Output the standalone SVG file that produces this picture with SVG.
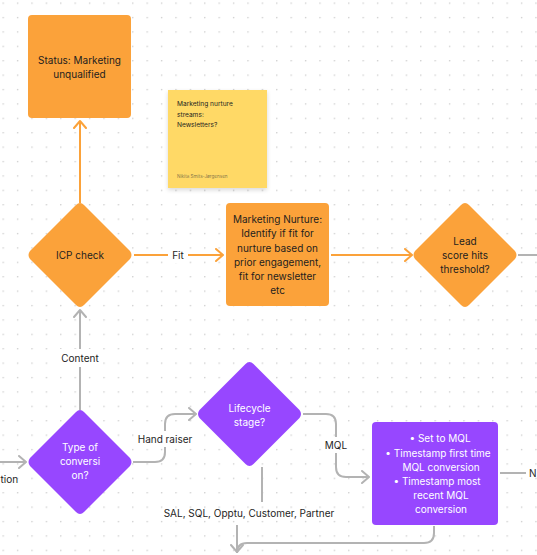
<svg xmlns="http://www.w3.org/2000/svg" width="537" height="555" viewBox="0 0 537 555">
<defs>
<pattern id="dots" x="2.5" y="2.5" width="14.4" height="14.4" patternUnits="userSpaceOnUse">
<circle cx="0.7" cy="0.7" r="0.75" fill="#c9c9c9"/>
</pattern>
<marker id="ao" markerWidth="10" markerHeight="14" refX="8" refY="7" orient="auto" markerUnits="userSpaceOnUse">
<path d="M1,1 L8,7 L1,13" fill="none" stroke="#FBA23A" stroke-width="2" stroke-linecap="round" stroke-linejoin="round"/>
</marker>
<marker id="ag" markerWidth="10" markerHeight="14" refX="8" refY="7" orient="auto" markerUnits="userSpaceOnUse">
<path d="M1,1 L8,7 L1,13" fill="none" stroke="#B3B3B3" stroke-width="2" stroke-linecap="round" stroke-linejoin="round"/>
</marker>
<filter id="shadow" x="-10%" y="-10%" width="130%" height="130%">
<feDropShadow dx="0" dy="2" stdDeviation="2" flood-color="#000" flood-opacity="0.15"/>
</filter>
</defs>
<style>
text{font-family:Inter,"Noto Sans","Liberation Sans",sans-serif;font-size:10px;fill:#1e1e1e;text-anchor:middle;dominant-baseline:central}
.w{fill:#ffffff}
.orange{fill:#FBA23A}
.purple{fill:#9747FF}
.lo{fill:none;stroke:#FBA23A;stroke-width:2}
.lg{fill:none;stroke:#B3B3B3;stroke-width:2}
.lbl{fill:#ffffff}
.st{font-size:6.6px;text-anchor:start;dominant-baseline:auto}
</style>
<rect width="537" height="555" fill="#ffffff"/>
<rect width="537" height="555" fill="url(#dots)"/>

<g id="connectors">
<path class="lo" d="M80,203 V121" marker-end="url(#ao)"/>
<path class="lo" d="M134,255 H223" marker-end="url(#ao)"/>
<rect class="lbl" x="168" y="247" width="20" height="16"/>
<text x="178" y="255">Fit</text>
<path class="lo" d="M331,255 H412" marker-end="url(#ao)"/>
<path class="lg" d="M518,255 H537"/>
<path class="lg" d="M80,410 V310" marker-end="url(#ag)"/>
<rect class="lbl" x="58" y="349" width="44" height="18"/>
<text x="80" y="358">Content</text>
<path class="lg" d="M0,462 H26" marker-end="url(#ag)"/>
<text x="0.5" y="479" style="text-anchor:start">tion</text>
<path class="lg" d="M133,462 H155 Q165,462 165,452 V424 Q165,414 175,414 H196" marker-end="url(#ag)"/>
<rect class="lbl" x="136" y="431" width="58" height="16"/>
<text x="165" y="439">Hand raiser</text>
<path class="lg" d="M303,414 H326 Q336,414 336,424 V467 Q336,477 346,477 H369" marker-end="url(#ag)"/>
<rect class="lbl" x="322" y="437" width="28" height="16"/>
<text x="336" y="445">MQL</text>
<path class="lg" d="M262,467 V502"/>
<text x="249" y="513">SAL, SQL, Opptu, Customer, Partner</text>
<path class="lg" d="M434,526 V533 Q434,543 424,543 H247 Q237,543 237,553" />
<path class="lg" d="M237,525 V552" marker-end="url(#ag)"/>
<path class="lg" d="M500,473 H526"/>
<text x="529" y="473" style="text-anchor:start">N</text>
</g>

<g id="status">
<rect class="orange" x="28" y="15" width="103" height="103" rx="4"/>
<text x="79.5" y="60">Status: Marketing</text>
<text x="79.5" y="74">unqualified</text>
</g>

<g id="sticky">
<rect x="168" y="90" width="99" height="98" fill="#FFD966" filter="url(#shadow)"/>
<text class="st" x="177" y="106">Marketing nurture</text>
<text class="st" x="177" y="116.5">streams:</text>
<text class="st" x="177" y="127">Newsletters?</text>
<text class="st" x="177" y="178" style="font-size:4.6px;fill:#8a7a4a">Nikita Smits-Jørgensen</text>
</g>

<g id="icp">
<path class="orange" d="M80,203 Q82,203 84,205 L130,251 Q133,255 130,259 L84,305 Q80,309 76,305 L30,259 Q27,255 30,251 L76,205 Q78,203 80,203 Z"/>
<text x="80" y="255">ICP check</text>
</g>

<g id="nurture">
<rect class="orange" x="226" y="203" width="103" height="103" rx="4"/>
<text x="277.5" y="219">Marketing Nurture:</text>
<text x="277.5" y="233">Identify if fit for</text>
<text x="277.5" y="248">nurture based on</text>
<text x="277.5" y="262">prior engagement,</text>
<text x="277.5" y="276">fit for newsletter</text>
<text x="277.5" y="290">etc</text>
</g>

<g id="lead">
<path class="orange" d="M465,203 Q467,203 469,205 L515,251 Q518,255 515,259 L469,305 Q465,309 461,305 L415,259 Q412,255 415,251 L461,205 Q463,203 465,203 Z"/>
<text x="465" y="241">Lead</text>
<text x="465" y="255">score hits</text>
<text x="465" y="269">threshold?</text>
</g>

<g id="type">
<path class="purple" d="M80,410 Q82,410 84,412 L130,458 Q133,462 130,466 L84,512 Q80,516 76,512 L30,466 Q27,462 30,458 L76,412 Q78,410 80,410 Z"/>
<text class="w" x="80" y="447">Type of</text>
<text class="w" x="80" y="461">conversi</text>
<text class="w" x="80" y="475">on?</text>
</g>

<g id="lifecycle">
<path class="purple" d="M249.5,362 Q251.5,362 253.5,364 L299.5,410 Q302.5,414 299.5,418 L253.5,464 Q249.5,468 245.5,464 L199.5,418 Q196.5,414 199.5,410 L245.5,364 Q247.5,362 249.5,362 Z"/>
<text class="w" x="249.5" y="408">Lifecycle</text>
<text class="w" x="249.5" y="422">stage?</text>
</g>

<g id="mql">
<rect class="purple" x="372" y="422" width="126" height="103" rx="4"/>
<text class="w" x="440" y="438">•  Set to MQL</text>
<text class="w" x="438" y="453">•  Timestamp first time</text>
<text class="w" x="441" y="467">MQL conversion</text>
<text class="w" x="437" y="481">•  Timestamp most</text>
<text class="w" x="441" y="495">recent MQL</text>
<text class="w" x="441" y="509">conversion</text>
</g>
</svg>
